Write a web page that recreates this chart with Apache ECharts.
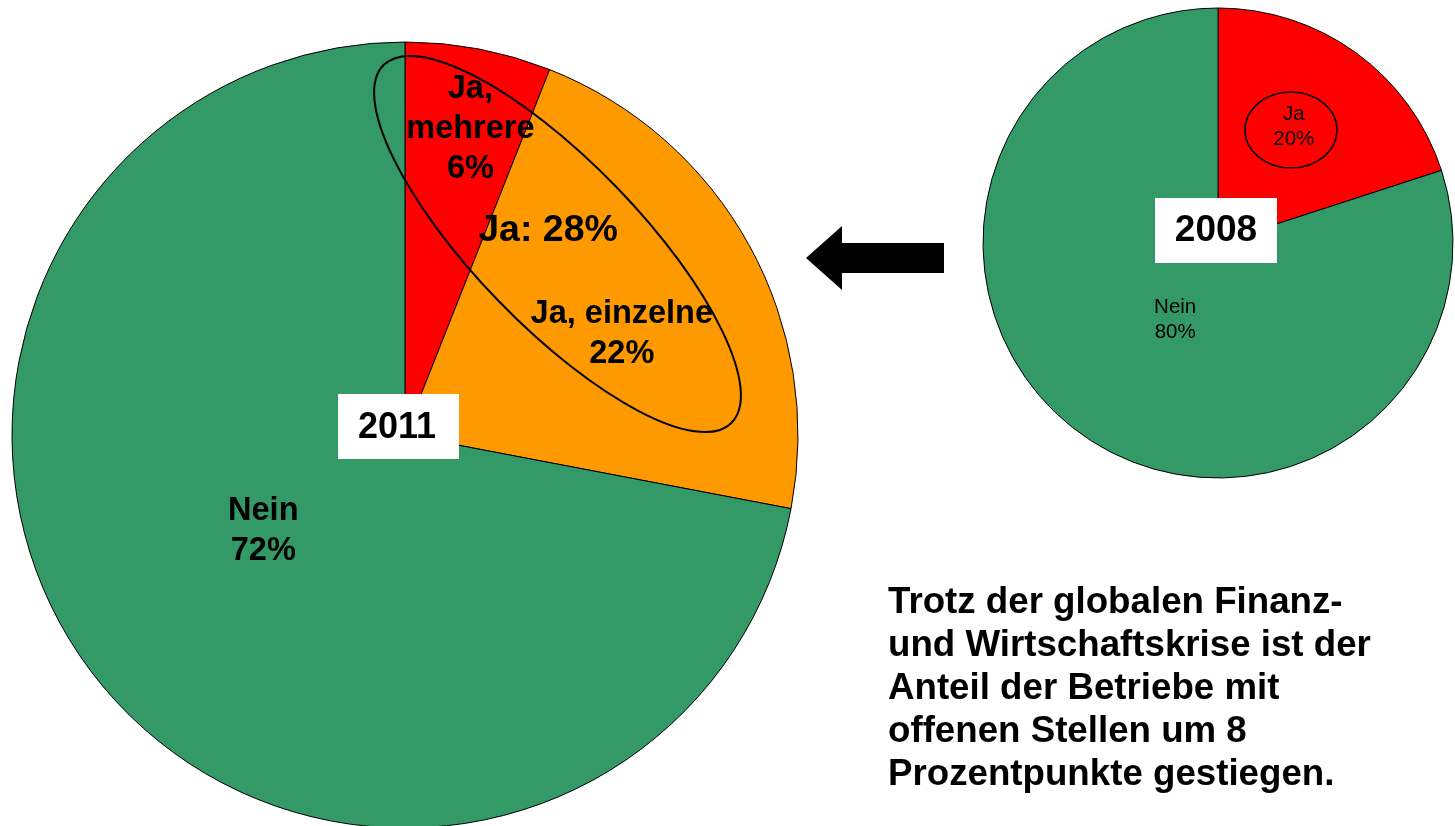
<!DOCTYPE html>
<html>
<head>
<meta charset="utf-8">
<script src="https://cdn.jsdelivr.net/npm/echarts@6/dist/echarts.min.js"></script>
<style>
html,body{margin:0;padding:0;background:#fff;}
#c{width:1455px;height:826px;}
</style>
</head>
<body>
<div id="c"></div>
<script>
// Data
var categories2011 = ['Ja, mehrere', 'Ja, einzelne', 'Nein'];
var labels2011 = ['Ja,\nmehrere', 'Ja, einzelne', 'Nein'];
var values2011 = [6, 22, 72];
var categories2008 = ['Ja', 'Nein'];
var values2008 = [20, 80];
var totalJa2011 = 28;
var yearBig = '2011';
var yearSmall = '2008';
var noteLines = [
  'Trotz der globalen Finanz-',
  'und Wirtschaftskrise ist der',
  'Anteil der Betriebe mit',
  'offenen Stellen um 8',
  'Prozentpunkte gestiegen.'
];

var FONT = '"Liberation Sans", Arial, Helvetica, sans-serif';
var colors2011 = ['#FF0000', '#FF9900', '#339966'];
var colors2008 = ['#FF0000', '#339966'];
var offsets2011 = [[28, -110], [42, -5], [12, -31]];
var offsets2008 = [[5, -19], [28, -21]];

var chart = echarts.init(document.getElementById('c'), null, {renderer: 'canvas'});

var data2011 = categories2011.map(function (n, i) {
  return {
    name: n, value: values2011[i],
    itemStyle: {color: colors2011[i]},
    label: {offset: offsets2011[i], formatter: labels2011[i] + '\n{c}%'}
  };
});
var data2008 = categories2008.map(function (n, i) {
  return {
    name: n, value: values2008[i],
    itemStyle: {color: colors2008[i]},
    label: {offset: offsets2008[i]}
  };
});

var option = {
  animation: false,
  backgroundColor: '#ffffff',
  series: [
    {
      type: 'pie',
      center: [405, 435],
      radius: [0, 393],
      startAngle: 90,
      clockwise: true,
      avoidLabelOverlap: false,
      emphasis: {disabled: true},
      itemStyle: {borderColor: '#000', borderWidth: 1},
      label: {
        show: true, position: 'inside',
        fontFamily: FONT, fontSize: 32.5, fontWeight: 'bold',
        color: '#000', lineHeight: 40, align: 'center'
      },
      labelLine: {show: false},
      data: data2011
    },
    {
      type: 'pie',
      center: [1218, 243],
      radius: [0, 235],
      startAngle: 90,
      clockwise: true,
      avoidLabelOverlap: false,
      emphasis: {disabled: true},
      itemStyle: {borderColor: '#000', borderWidth: 1},
      label: {
        show: true, position: 'inside',
        fontFamily: FONT, fontSize: 20.5, fontWeight: 'normal',
        color: '#000', lineHeight: 25, align: 'center',
        formatter: '{b}\n{c}%'
      },
      labelLine: {show: false},
      data: data2008
    }
  ],
  graphic: [
    {
      type: 'ellipse', z: 100, x: 557.5, y: 244, rotation: -45.9 * Math.PI / 180,
      shape: {cx: 0, cy: 0, rx: 249.5, ry: 82},
      style: {fill: 'none', stroke: '#000', lineWidth: 2}
    },
    {
      type: 'text', z: 101, x: 548, y: 231,
      style: {text: 'Ja: ' + totalJa2011 + '%', font: 'bold 37.5px ' + FONT, fill: '#000',
              textAlign: 'center', textVerticalAlign: 'middle'}
    },
    {
      type: 'ellipse', z: 100,
      shape: {cx: 1291, cy: 130, rx: 46, ry: 38},
      style: {fill: 'none', stroke: '#000', lineWidth: 1.5}
    },
    {
      type: 'rect', z: 100,
      shape: {x: 338, y: 394, width: 121, height: 65},
      style: {fill: '#fff', stroke: 'none'}
    },
    {
      type: 'text', z: 101, x: 397, y: 428,
      style: {text: yearBig, font: 'bold 36px ' + FONT, fill: '#000',
              textAlign: 'center', textVerticalAlign: 'middle'}
    },
    {
      type: 'rect', z: 100,
      shape: {x: 1155, y: 198, width: 122, height: 65},
      style: {fill: '#fff', stroke: 'none'}
    },
    {
      type: 'text', z: 101, x: 1216, y: 231,
      style: {text: yearSmall, font: 'bold 37px ' + FONT, fill: '#000',
              textAlign: 'center', textVerticalAlign: 'middle'}
    },
    {
      type: 'polygon', z: 100,
      shape: {points: [[806, 258], [842, 226], [842, 243], [944, 243], [944, 273], [842, 273], [842, 290]]},
      style: {fill: '#000', stroke: 'none'}
    },
    {
      type: 'text', z: 101, x: 888, y: 581,
      style: {text: noteLines.join('\n'), font: 'bold 36.7px ' + FONT, fill: '#000',
              lineHeight: 43, textAlign: 'left', textVerticalAlign: 'top'}
    }
  ]
};
chart.setOption(option);
</script>
</body>
</html>
